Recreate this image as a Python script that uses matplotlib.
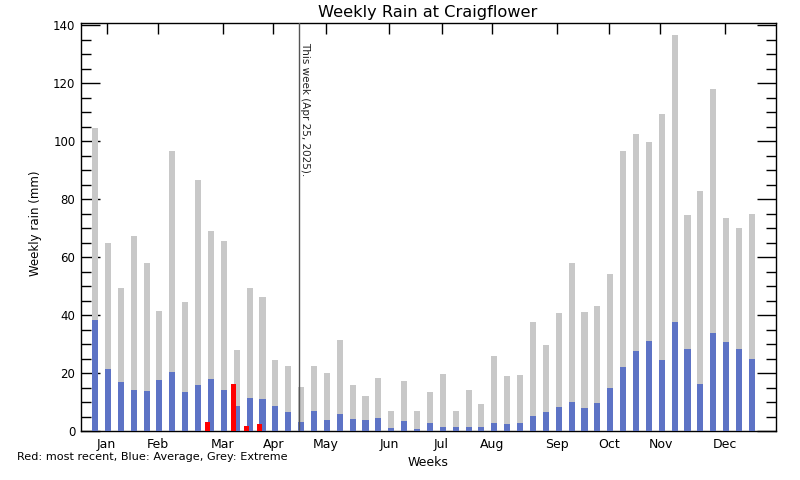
import numpy as np
import matplotlib
matplotlib.use("Agg")
import matplotlib.pyplot as plt
from matplotlib.ticker import MultipleLocator

# Weekly values (mm), one per week of the year
extreme = [104.5, 64.8, 49.3, 67.2, 57.9, 41.4, 96.6, 44.5, 86.6, 69.0,
           65.5, 27.9, 49.3, 46.2, 24.5, 22.4, 15.2, 22.4, 20.0, 31.4,
           15.9, 12.1, 18.3, 6.9, 17.2, 6.9, 13.4, 19.7, 6.9, 14.1,
           9.3, 25.9, 19.0, 19.3, 37.6, 29.7, 40.7, 57.9, 41.0, 43.1,
           54.1, 96.6, 102.4, 99.7, 109.3, 136.6, 74.5, 82.8, 117.9, 73.4,
           70.0, 74.8]
average = [38.3, 21.4, 16.9, 14.1, 13.8, 17.6, 20.3, 13.4, 15.9, 17.9,
           14.1, 8.6, 11.4, 11.0, 8.6, 6.5, 3.1, 6.9, 3.8, 5.9,
           4.1, 3.8, 4.5, 1.0, 3.4, 0.7, 2.8, 1.4, 1.4, 1.4,
           1.4, 2.8, 2.4, 2.8, 5.2, 6.6, 8.3, 10.0, 7.9, 9.7,
           14.8, 22.1, 27.6, 31.0, 24.5, 37.6, 28.3, 16.2, 33.8, 30.7,
           28.3, 24.8]
# this year so far (zero = nothing shown)
recent = [0, 0, 0, 0, 0, 0, 0, 0, 0, 3.1, 0, 16.2, 1.7, 2.4, 0, 0]

months = ["Jan", "Feb", "Mar", "Apr", "May", "Jun",
          "Jul", "Aug", "Sep", "Oct", "Nov", "Dec"]
month_pos = [0.9, 4.9, 9.9, 13.85, 17.9, 22.85, 26.9, 30.85, 35.9, 39.9, 43.9, 48.9]
this_week = 15.86
this_week_label = "This week (Apr 25, 2025)."

GREY = "#c8c8c8"
BLUE = "#5d73c5"
RED = "#ff0000"

fig = plt.figure(figsize=(8, 4.8), dpi=100)
ax = fig.add_axes([81/800, 1-431/480, 695/800, 408/480])

wk = np.arange(len(extreme))
ax.bar(wk, extreme, width=0.47, color=GREY, linewidth=0, zorder=2)
ax.bar(wk, average, width=0.47, color=BLUE, linewidth=0, zorder=3)
rw = np.arange(len(recent)) - 0.25
ax.bar(rw, recent, width=0.38, color=RED, linewidth=0, zorder=4)

ax.axvline(this_week, color="#555555", lw=1, zorder=5)
ax.text(this_week + 0.08, 134, this_week_label, rotation=-90, ha="left", va="top",
        fontsize=7.5, color="#222222")

ax.set_xlim(-1.09, 52.87)
ax.set_ylim(0, 140.7)

ax.set_xticks(month_pos)
ax.set_xticklabels(months, fontsize=9)
ax.yaxis.set_major_locator(MultipleLocator(20))
ax.yaxis.set_minor_locator(MultipleLocator(5))
ax.tick_params(axis="y", labelsize=8.5)

ax.tick_params(axis="x", which="both", direction="in", top=True, bottom=True,
               length=8, width=1, pad=5)
ax.tick_params(axis="y", which="major", direction="in", left=True, right=True,
               length=14, width=1, pad=4)
ax.tick_params(axis="y", which="minor", direction="in", left=True, right=True,
               length=7, width=1)

for s in ax.spines.values():
    s.set_linewidth(1)

fig.text(428/800, 1-12/480, "Weekly Rain at Craigflower", ha="center", va="center",
         fontsize=11.7)
fig.text(36/800, 1-223/480, "Weekly rain (mm)", rotation=90, ha="center",
         va="center", fontsize=8.5)
fig.text(428/800, 1-462/480, "Weeks", ha="center", va="center", fontsize=9)
fig.text(17/800, 1-457.5/480, "Red: most recent, Blue: Average, Grey: Extreme",
         ha="left", va="center", fontsize=8.1)

fig.savefig("out.png", dpi=100)
